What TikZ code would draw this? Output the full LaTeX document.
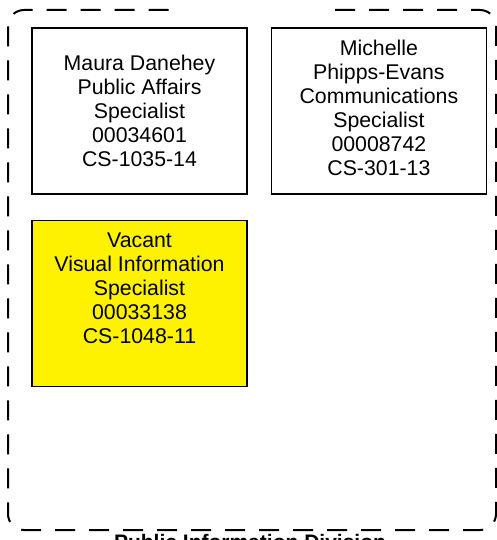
\documentclass[tikz,border=0pt]{standalone}
\usepackage{fontspec}
\setmainfont{Liberation Sans}
\usetikzlibrary{positioning}
\tikzstyle{post} = [rectangle,fill=white,draw=black,line width=1.4pt,inner sep=0pt,
minimum width=215pt, minimum height=166pt]
\tikzstyle{vacant} = [post,fill=yellow]
\tikzstyle{info} = [align=center,inner sep=0pt,font=\fontsize{21.3}{24}\selectfont]
\tikzstyle{division} = [inner sep=0pt,font=\fontsize{21}{24}\selectfont\bfseries]
\tikzstyle{border} = [draw=black,line width=2pt,dash pattern=on 20pt off 14pt,
rounded corners=16pt]

\begin{document}
\begin{tikzpicture}[x=1pt,y=-1pt]
  \useasboundingbox (0,0) rectangle (497,540);
  % dashed division frame, open at the top
  \path[border] (335,10) -- (496,10) -- (496,530) -- (8,530) -- (8,10) -- (170,10);
  \node[division, anchor=north] (div) at (250,534) {Public Information Division};

  \node[post] (danehey) at (139.5,111) {};
  \node[info] (daneheyt) at (danehey) {Maura Danehey\\Public Affairs\\Specialist\\00034601\\CS-1035-14};

  \node[post, right=23pt of danehey] (evans) {};
  \node[info, yshift=3pt] (evanst) at (evans) {Michelle\\Phipps-Evans\\Communications\\Specialist\\00008742\\CS-301-13};

  \node[vacant, below=25pt of danehey] (visual) {};
  \node[info, below=13pt of visual.north] (visualt) {Vacant\\Visual Information\\Specialist\\00033138\\CS-1048-11};
\end{tikzpicture}
\end{document}
